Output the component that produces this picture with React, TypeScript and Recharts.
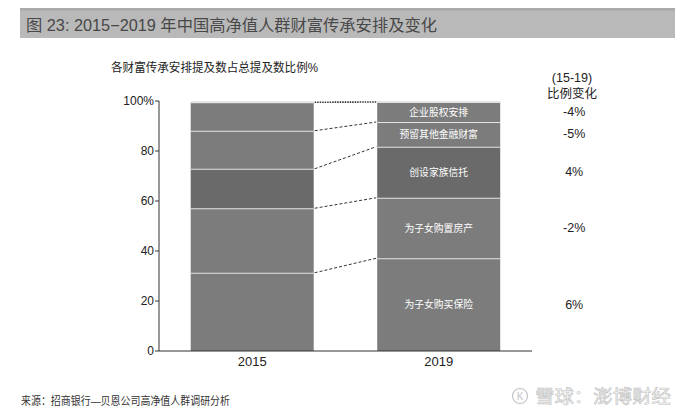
import React from 'react';
import { BarChart, Bar, XAxis, YAxis } from 'recharts';

const years = ['2015', '2019'];
const insurance = [31.3, 37.1];
const realEstate = [25.8, 24.2];
const familyTrust = [15.8, 20.4];
const otherFinance = [15.2, 9.9];
const equity = [11.4, 8.0];
const seriesKeys = ['insurance', 'realEstate', 'familyTrust', 'otherFinance', 'equity'];
const seriesNames = ['为子女购买保险', '为子女购置房产', '创设家族信托', '预留其他金融财富', '企业股权安排'];
const changeLabels = ['6%', '-2%', '4%', '-5%', '-4%'];
const yTicks = [0, 20, 40, 60, 80, 100];

const seriesValues = [insurance, realEstate, familyTrust, otherFinance, equity];

const data = years.map((year, i) => ({
  year,
  insurance: insurance[i],
  realEstate: realEstate[i],
  familyTrust: familyTrust[i],
  otherFinance: otherFinance[i],
  equity: equity[i],
}));

const FONT = "'Liberation Sans', 'Noto Sans CJK SC', sans-serif";
const W = 691;
const H = 419;
const MARGIN = { top: 101, right: 159, bottom: 38, left: 109 };
const Y_AXIS_W = 50;
const PLOT_W = W - MARGIN.left - MARGIN.right - Y_AXIS_W;

const cumTo = (si: number, yi: number) => {
  let s = 0;
  for (let j = 0; j <= si; j++) s += seriesValues[j][yi];
  return s;
};

const makeShape = (si: number) => (props: any) => {
  const { x, y, width, height, payload } = props;
  const yi = years.indexOf(payload?.year);
  const fill = si === 2 ? '#6a6a6a' : '#7c7c7c';
  const els: React.ReactNode[] = [
    <rect key="r" x={x} y={y} width={width} height={height} fill={fill} />,
    <line key="s" x1={x} x2={x + width} y1={y} y2={y} stroke="#e4e4e4" strokeWidth={2} />,
  ];
  if (yi === 1) {
    const val = seriesValues[si][1];
    const k = height / val;
    const below = si > 0 ? cumTo(si - 1, 1) : 0;
    const base = y + height + below * k;
    const y15 = base - cumTo(si, 0) * k;
    const band = PLOT_W / years.length;
    const gap = band - width;
    els.push(
      <line
        key="c"
        x1={x - gap + 1}
        y1={y15}
        x2={x - 1}
        y2={y}
        stroke="#333"
        strokeWidth={si === 4 ? 1.6 : 1}
        strokeDasharray={si === 4 ? '1.5 1' : '3 2'}
      />
    );
    els.push(
      <text
        key="t"
        x={x + width / 2}
        y={y + height / 2}
        textAnchor="middle"
        dominantBaseline="central"
        fill="#fff"
        fontSize={9.8}
        fontFamily={FONT}
      >
        {seriesNames[si]}
      </text>
    );
    els.push(
      <text
        key="p"
        x={x + width + 74}
        y={y + height / 2}
        textAnchor="middle"
        dominantBaseline="central"
        fill="#222"
        fontSize={12.5}
        fontFamily={FONT}
      >
        {changeLabels[si]}
      </text>
    );
  }
  return <g>{els}</g>;
};

export default function App() {
  return (
    <div style={{ position: 'absolute', left: 0, top: 0, width: W, height: H, background: '#fff' }}>
      <svg width={W} height={H} style={{ position: 'absolute', left: 0, top: 0 }}>
        <rect x={20} y={8} width={655} height={30} fill="#b9b9b9" />
        <rect x={20} y={8} width={655} height={2.5} fill="#a9a9a9" />
        <text x={26} y={31} fontSize={16} fill="#484848" fontFamily={FONT} textLength={411} lengthAdjust="spacingAndGlyphs">
          图 23: 2015−2019 年中国高净值人群财富传承安排及变化
        </text>
        <text x={111} y={72} fontSize={12} fill="#222" fontFamily={FONT} textLength={207} lengthAdjust="spacingAndGlyphs">
          各财富传承安排提及数占总提及数比例%
        </text>
        <text x={572} y={82} fontSize={12.5} fill="#222" fontFamily={FONT} textAnchor="middle">
          (15-19)
        </text>
        <text x={572} y={98} fontSize={12.5} fill="#222" fontFamily={FONT} textAnchor="middle">
          比例变化
        </text>
        <text x={21} y={405} fontSize={11} fill="#333" fontFamily={FONT} textLength={209} lengthAdjust="spacingAndGlyphs">
          来源：招商银行—贝恩公司高净值人群调研分析
        </text>
        <circle cx={520} cy={396} r={7.5} fill="none" stroke="#c4c4c4" strokeWidth={1.2} />
        <text x={520} y={400} fontSize={10} fill="#c4c4c4" textAnchor="middle" fontFamily={FONT}>K</text>
        <text x={535} y={403} fontSize={18} fill="#fafafa" stroke="#c0c0c0" strokeWidth={0.6} fontFamily={FONT} textLength={136} lengthAdjust="spacingAndGlyphs">
          雪球：澎博财经
        </text>
      </svg>
      <div style={{ position: 'absolute', left: 0, top: 0 }}>
        <BarChart width={W} height={H} data={data} margin={MARGIN} barCategoryGap="17%">
          <XAxis
            dataKey="year"
            tickLine={false}
            tickSize={0}
            tickMargin={6}
            axisLine={{ stroke: '#333', strokeWidth: 1 }}
            tick={{ fontSize: 13, fill: '#222', fontFamily: FONT }}
            height={30}
          />
          <YAxis
            width={Y_AXIS_W}
            domain={[0, 100]}
            ticks={yTicks}
            interval={0}
            tickSize={4}
            tickMargin={1}
            tickFormatter={(v: number) => (v === 100 ? '100%' : String(v))}
            axisLine={{ stroke: '#333', strokeWidth: 1 }}
            tickLine={{ stroke: '#333', strokeWidth: 1 }}
            tick={{ fontSize: 12, fill: '#222', fontFamily: FONT }}
          />
          {seriesKeys.map((key, si) => (
            <Bar key={key} dataKey={key} stackId="a" isAnimationActive={false} shape={makeShape(si)} />
          ))}
        </BarChart>
      </div>
    </div>
  );
}
